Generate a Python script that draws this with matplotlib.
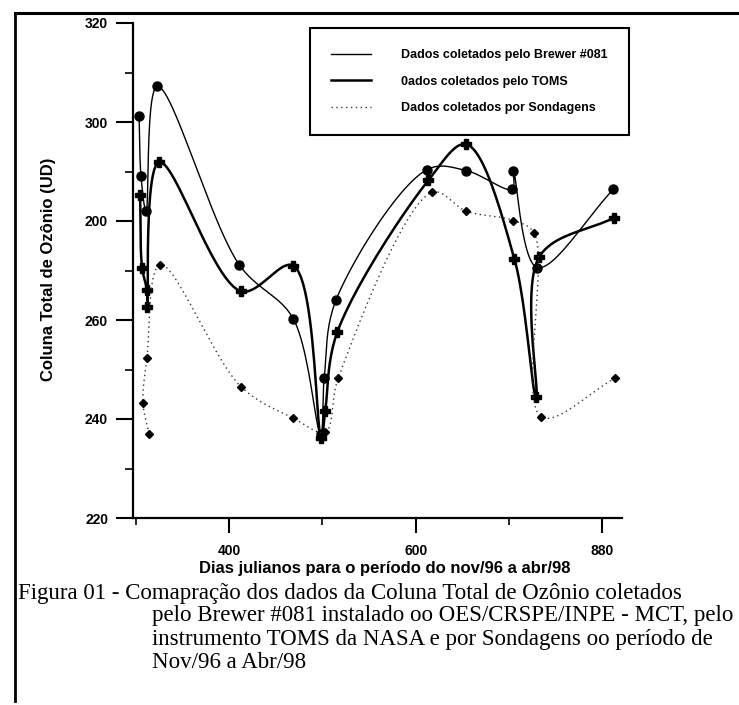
import numpy as np
import matplotlib
matplotlib.use("Agg")
import matplotlib.pyplot as plt
from matplotlib.lines import Line2D

# valores (dia juliano, coluna total em UD)
brewer_x = [303.5, 305.6, 311.0, 323.0, 410.7, 468.6, 498.0, 501.9, 514.7,
            612.3, 654.0, 703.5, 704.6, 730.0, 811.8]
brewer_y = [301.2, 289.0, 282.0, 307.2, 271.2, 260.3, 237.0, 248.3, 264.1,
            290.4, 290.2, 286.4, 290.2, 270.6, 286.4]

toms_x = [304.6, 306.7, 312.0, 312.5, 325.0, 412.8, 468.6, 498.7, 503.0,
          515.8, 613.4, 654.0, 705.6, 729.0, 732.4, 812.9]
toms_y = [285.2, 270.6, 266.0, 262.7, 291.9, 265.8, 271.0, 236.2, 241.7,
          257.5, 288.2, 295.5, 272.4, 244.5, 272.8, 280.7]

sond_x = [314.0, 307.7, 312.0, 326.0, 412.8, 468.6, 503.0, 517.0, 617.7,
          654.0, 704.6, 727.0, 734.6, 814.0]
sond_y = [237.0, 243.3, 252.4, 271.2, 246.5, 240.2, 237.4, 248.3, 285.8,
          282.0, 280.1, 277.5, 240.4, 248.3]

yticks = [220, 240, 260, 280, 300, 320]
ytick_labels = ["220", "240", "260", "200", "300", "320"]
xticks = [400, 600, 800]
xtick_labels = ["400", "600", "880"]

legend_labels = ["Dados coletados pelo Brewer #081",
                 "0ados coletados pelo TOMS",
                 "Dados coletados por Sondagens"]

caption = ["Figura 01 - Comapração dos dados da Coluna Total de Ozônio coletados",
           "pelo Brewer #081 instalado oo OES/CRSPE/INPE - MCT, pelo",
           "instrumento TOMS da NASA e por Sondagens oo período de",
           "Nov/96 a Abr/98"]


def smooth(ax, x, y, n=24):
    # spline catmull-rom (centripeta) feita em coordenadas de tela
    pts = ax.transData.transform(np.column_stack([x, y]))
    P = np.vstack([2 * pts[0] - pts[1], pts, 2 * pts[-1] - pts[-2]])
    out = [pts[0]]
    for i in range(1, len(P) - 2):
        p0, p1, p2, p3 = P[i - 1], P[i], P[i + 1], P[i + 2]
        t0 = 0.0
        t1 = t0 + max(np.linalg.norm(p1 - p0), 1e-3) ** 0.5
        t2 = t1 + max(np.linalg.norm(p2 - p1), 1e-3) ** 0.5
        t3 = t2 + max(np.linalg.norm(p3 - p2), 1e-3) ** 0.5
        for t in np.linspace(t1, t2, n)[1:]:
            a1 = (t1 - t) / (t1 - t0) * p0 + (t - t0) / (t1 - t0) * p1
            a2 = (t2 - t) / (t2 - t1) * p1 + (t - t1) / (t2 - t1) * p2
            a3 = (t3 - t) / (t3 - t2) * p2 + (t - t2) / (t3 - t2) * p3
            b1 = (t2 - t) / (t2 - t0) * a1 + (t - t0) / (t2 - t0) * a2
            b2 = (t3 - t) / (t3 - t1) * a2 + (t - t1) / (t3 - t1) * a3
            out.append((t2 - t) / (t2 - t1) * b1 + (t - t1) / (t2 - t1) * b2)
    out = ax.transData.inverted().transform(np.array(out))
    return out[:, 0], out[:, 1]


fig = plt.figure(figsize=(7.39, 7.05), dpi=100)
ax = fig.add_axes([133 / 739, 1 - 518 / 705, (622 - 133) / 739, (518 - 23) / 705])
ax.set_xlim(297, 821)
ax.set_ylim(220, 320)

sx, sy = smooth(ax, brewer_x, brewer_y)
ax.plot(sx, sy, color="black", lw=1.0)
ax.plot(brewer_x, brewer_y, "o", color="black", ms=6.5, ls="none")

sx, sy = smooth(ax, toms_x, toms_y)
ax.plot(sx, sy, color="black", lw=1.8)
ax.plot(toms_x, toms_y, "P", color="black", ms=6.5, ls="none")

sx, sy = smooth(ax, sond_x, sond_y)
ax.plot(sx, sy, color="#333333", lw=1.0, ls=(0, (1, 2.5)))
ax.plot(sond_x, sond_y, "D", color="black", ms=4.5, ls="none")

for s in ["top", "right"]:
    ax.spines[s].set_visible(False)
for s in ["left", "bottom"]:
    ax.spines[s].set_linewidth(1.6)

ax.set_yticks(yticks)
ax.set_yticklabels(ytick_labels, fontsize=10, fontweight="bold", family="Liberation Sans")
ax.set_yticks([230, 250, 270, 290, 310], minor=True)
ax.set_xticks(xticks)
ax.set_xticklabels(xtick_labels, fontsize=10, fontweight="bold", family="Liberation Sans")
ax.set_xticks([300, 500, 700], minor=True)
ax.tick_params(axis="y", which="major", length=12, width=1.5, pad=6)
ax.tick_params(axis="y", which="minor", length=6, width=1.2)
ax.tick_params(axis="x", which="major", length=11, width=1.5, pad=8)
ax.tick_params(axis="x", which="minor", length=5, width=1.2)

ax.set_xlabel("Dias julianos para o período do nov/96 a abr/98", fontsize=12,
              fontweight="bold", family="Liberation Sans")
ax.xaxis.set_label_coords((385 - 133) / 489, -(569 - 518) / 495, transform=ax.transAxes)
ax.xaxis.label.set_va("center")
ax.set_ylabel("Coluna Total de Ozônio (UD)", fontsize=12, fontweight="bold",
              family="Liberation Sans")
ax.yaxis.set_label_coords(-(133 - 49) / 489, (518 - 269) / 495, transform=ax.transAxes)
ax.yaxis.label.set_va("center")

handles = [Line2D([], [], color="black", lw=1.0),
           Line2D([], [], color="black", lw=1.8),
           Line2D([], [], color="#333333", lw=1.0, ls=(0, (1, 2.5)))]
leg = ax.legend(handles, legend_labels, loc="upper left",
                bbox_to_anchor=(310 / 739, 1 - 28 / 705), bbox_transform=fig.transFigure,
                prop={"family": "Liberation Sans", "weight": "bold", "size": 9},
                handlelength=3.2, handletextpad=2.4, labelspacing=1.15,
                borderpad=1.7, borderaxespad=0, fancybox=False, framealpha=1,
                edgecolor="black")
leg.get_frame().set_linewidth(1.5)

# moldura da figura escaneada
fig.add_artist(Line2D([15 / 739, 1], [1 - 13 / 705, 1 - 13 / 705], color="black", lw=2.2))
fig.add_artist(Line2D([15 / 739, 15 / 739], [1 - 13 / 705, 0.005], color="black", lw=2.0))

fig.text(18 / 739, 1 - 593 / 705, caption[0], fontsize=16.5, family="Liberation Serif",
         va="center", ha="left")
for i, line in enumerate(caption[1:]):
    fig.text(152 / 739, 1 - (616 + 23 * i) / 705, line, fontsize=16.5,
             family="Liberation Serif", va="center", ha="left")

fig.savefig("out.png", dpi=100)
